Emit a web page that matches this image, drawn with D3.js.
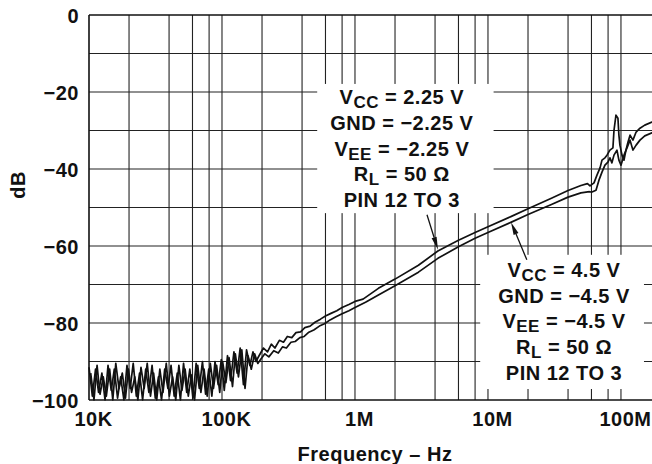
<!DOCTYPE html>
<html><head><meta charset="utf-8">
<script src="https://cdn.jsdelivr.net/npm/d3@7"></script>
<style>
body{margin:0;background:#fff}
svg{display:block}
text{font-family:"Liberation Sans",Arial,Helvetica,sans-serif;font-weight:bold;fill:#111;letter-spacing:0.5px}
</style>
</head><body>
<svg id="c" width="652" height="464"></svg>
<script>
// ---- data ----
const xTickValues = [1e4, 1e5, 1e6, 1e7, 1e8];
const xTickLabels = ["10K", "100K", "1M", "10M", "100M"];
const yTickValues = [0, -20, -40, -60, -80, -100];
const yTickLabels = ["0", "−20", "−40", "−60", "−80", "−100"];
const gridMultipliers = [2, 4, 6, 8, 10];
const gridDecades = [1e4, 1e5, 1e6, 1e7, 1e8];
const gridDb = [-10, -20, -30, -40, -50, -60, -70, -80, -90];

// Curve A (upper, VCC = 2.25 V)
const freqA = [
 10.0e3,10.6e3,11.2e3,11.8e3,12.5e3,13.2e3,13.9e3,14.7e3,15.5e3,16.4e3,17.3e3,18.3e3,19.3e3,20.4e3,21.5e3,22.7e3,24.0e3,25.3e3,26.7e3,28.2e3,
 29.8e3,31.5e3,33.3e3,35.1e3,37.1e3,39.2e3,41.4e3,43.7e3,46.1e3,48.7e3,51.4e3,54.3e3,57.3e3,60.5e3,63.9e3,67.5e3,71.3e3,75.3e3,79.5e3,83.9e3,
 88.6e3,93.6e3,98.8e3,104e3,110e3,116e3,123e3,130e3,137e3,145e3,153e3,162e3,171e3,180e3,
 190e3,205e3,220e3,235e3,250e3,270e3,290e3,310e3,335e3,360e3,390e3,420e3,460e3,500e3,550e3,600e3,660e3,730e3,800e3,900e3,
 1.0e6,1.15e6,1.5e6,2e6,3e6,4.2e6,6e6,8e6,10e6,15e6,20e6,30e6,40e6,50e6,56e6,58.5e6,62.7e6,66e6,69.6e6,72e6,75.8e6,78.5e6,82.6e6,87e6,88.6e6,
 91.7e6,94.9e6,96.5e6,98.2e6,101.8e6,105.4e6,109e6,113e6,117e6,123e6,130e6,139e6,151e6,171e6,200e6
];
const dbA = [
 -91.5,-99,-92,-98,-93,-100,-91,-97.5,-92,-99.5,-94,-100,-91,-97,-90.5,-99,-93,-100,-92,-98,
 -91,-99.5,-94,-100,-92,-97,-91,-99,-93,-100,-90.5,-98,-92,-99.5,-90.5,-97,-90,-98.5,-92,-99,
 -90,-96,-89.5,-97.5,-88.5,-95,-87.5,-93,-86.5,-96,-87,-91,-87.5,-90,
 -88.5,-86.5,-87.5,-85.5,-86.5,-84.5,-85,-83.5,-83.8,-82.5,-82.3,-81.2,-80.8,-79.8,-79,-78.2,-77.5,-76.8,-76,-75.2,
 -74.4,-73.8,-71.0,-68.6,-65.0,-61.3,-58.5,-56.5,-55.0,-52.3,-50.3,-47.6,-45.6,-44.3,-43.8,-44.4,-43.6,-41.6,-39.7,-37.7,-37.1,-36.4,-35.1,-34.5,-30.0,
 -26.0,-26.8,-31.2,-33.8,-36.4,-37.7,-35.1,-33.0,-31.2,-32.5,-30.4,-29.4,-28.6,-27.8,-27.5
];

// Curve B (lower, VCC = 4.5 V)
const freqB = [
 10.3e3,10.9e3,11.5e3,12.1e3,12.8e3,13.5e3,14.3e3,15.1e3,15.9e3,16.8e3,17.8e3,18.8e3,19.8e3,20.9e3,22.1e3,23.3e3,24.6e3,26.0e3,27.4e3,29.0e3,
 30.6e3,32.3e3,34.1e3,36.0e3,38.1e3,40.2e3,42.5e3,44.9e3,47.4e3,50.0e3,52.8e3,55.8e3,58.9e3,62.2e3,65.7e3,69.4e3,73.3e3,77.4e3,81.7e3,86.3e3,
 91.1e3,96.2e3,101e3,107e3,113e3,120e3,126e3,133e3,141e3,149e3,157e3,166e3,176e3,186e3,
 195e3,210e3,225e3,245e3,265e3,285e3,305e3,330e3,355e3,385e3,415e3,450e3,490e3,540e3,590e3,650e3,720e3,800e3,900e3,
 1.0e6,1.2e6,1.5e6,2e6,3e6,4.2e6,6e6,8e6,10e6,15e6,20e6,30e6,40e6,50e6,58e6,60.5e6,64.9e6,68.3e6,72e6,75.8e6,79.8e6,82.6e6,85.5e6,88.6e6,
 93.3e6,96.5e6,100e6,105.4e6,111e6,117e6,123e6,130e6,139e6,151e6,171e6,200e6
];
const dbB = [
 -93,-100,-91,-98.5,-94,-99,-92,-100,-90.5,-97,-93,-99.5,-92,-98,-94,-100,-91.5,-97,-90.5,-99,
 -93,-100,-92,-98,-90.5,-99,-94,-100,-91,-97.5,-92,-99,-93.5,-100,-91,-98,-92,-99,-90.5,-97,
 -91,-98,-90,-95.5,-89,-96.5,-88,-94,-87,-97,-88.5,-92,-88,-90.5,
 -89.5,-88,-88.8,-87.2,-87.8,-86.2,-86.5,-85,-84.8,-83.8,-83.5,-82.4,-81.8,-80.8,-80.2,-79.2,-78.4,-77.6,-76.8,
 -76.0,-74.6,-72.7,-70.3,-66.8,-63.2,-60.2,-58.0,-56.5,-53.8,-51.8,-49.2,-47.3,-46.2,-45.9,-46.0,-45.5,-42.9,-40.8,-39.0,-38.2,-37.1,-38.4,-36.4,
 -35.1,-37.7,-39.0,-36.4,-34.5,-32.5,-35.1,-33.8,-32.5,-31.4,-30.6,-30.0
];

const label1Lines = [["V","CC"," = 2.25 V"],["GND = −2.25 V"],["V","EE"," = −2.25 V"],["R","L"," = 50 Ω"],["PIN 12 TO 3"]];
const label2Lines = [["V","CC"," = 4.5 V"],["GND = −4.5 V"],["V","EE"," = −4.5 V"],["R","L"," = 50 Ω"],["PIN 12 TO 3"]];
const label1Anchor = [2.25e6, -23.1];
const label2Anchor = [3.73e7, -68.0];
const arrow1 = [[3.48e6, -51.9], [4.21e6, -61.0]];
const arrow2 = [[1.96e7, -63.6], [1.49e7, -53.8]];

// ---- chart ----
const svg = d3.select("#c");
const x = d3.scaleLog().domain([1e4, 2e8]).range([89, 661]);
const y = d3.scaleLinear().domain([0, -100]).range([15, 400]);

const grid = svg.append("g").attr("stroke", "#222").attr("stroke-width", 1.1).attr("fill", "none");
const gx = [];
gridDecades.forEach(d => gridMultipliers.forEach(m => gx.push(d * m)));
grid.selectAll("line.v").data(gx.filter(v => v < 2e8)).join("line")
  .attr("x1", d => x(d)).attr("x2", d => x(d)).attr("y1", y(0)).attr("y2", y(-100));
grid.selectAll("line.h").data(gridDb).join("line").attr("class","h")
  .attr("x1", x(1e4)).attr("x2", x(2e8)).attr("y1", d => y(d)).attr("y2", d => y(d));

// borders
svg.append("line").attr("x1", x(1e4)).attr("x2", x(2e8)).attr("y1", y(0)).attr("y2", y(0)).attr("stroke","#111").attr("stroke-width",1.6);
svg.append("line").attr("x1", x(1e4)).attr("x2", x(2e8)).attr("y1", y(-100)).attr("y2", y(-100)).attr("stroke","#111").attr("stroke-width",1.6);
svg.append("line").attr("x1", x(1e4)).attr("x2", x(1e4)).attr("y1", y(0)).attr("y2", y(-100)).attr("stroke","#111").attr("stroke-width",1.6);

// axes labels via d3 axes
const xAxis = d3.axisBottom(x).tickValues(xTickValues).tickFormat((d,i) => xTickLabels[i]).tickSize(0).tickPadding(0);
const gxa = svg.append("g").attr("transform", "translate(0,426)").call(xAxis);
gxa.select(".domain").remove();
gxa.selectAll("text").attr("font-size", 20).attr("dy", 0).attr("dx", 4).attr("fill", "#111")
  .style("font-family",'"Liberation Sans",Arial,sans-serif').style("font-weight","bold");

const yAxis = d3.axisLeft(y).tickValues(yTickValues).tickFormat((d,i) => yTickLabels[i]).tickSize(0).tickPadding(0);
const gya = svg.append("g").attr("transform", "translate(79,0)").call(yAxis);
gya.select(".domain").remove();
gya.selectAll("text").attr("font-size", 20).attr("dy", 7).attr("x", 0).attr("fill", "#111")
  .style("font-family",'"Liberation Sans",Arial,sans-serif').style("font-weight","bold");

svg.append("text").attr("transform", "translate(25,185) rotate(-90)").attr("text-anchor","middle")
  .attr("font-size", 20).text("dB");
svg.append("text").attr("x", 375).attr("y", 461).attr("text-anchor","middle")
  .attr("font-size", 20).text("Frequency – Hz");

// label blocks
function block(lines, anchor, padL, padR, padT, padB) {
  const g = svg.append("g");
  const bg = g.append("rect").attr("fill", "#fff");
  const t = g.append("g");
  lines.forEach((ln, i) => {
    const tx = t.append("text").attr("x", x(anchor[0])).attr("y", y(anchor[1]) + i * 25.8)
      .attr("text-anchor", "middle").attr("font-size", 20);
    if (ln.length === 1) tx.text(ln[0]);
    else {
      tx.append("tspan").text(ln[0]);
      tx.append("tspan").attr("dy", 4).attr("font-size", 17).text(ln[1]);
      tx.append("tspan").attr("dy", -4).text(ln[2]);
    }
  });
  const bb = t.node().getBBox();
  bg.attr("x", bb.x - padL).attr("width", bb.width + padL + padR)
    .attr("y", bb.y - padT).attr("height", bb.height + padT + padB);
}
block(label1Lines, label1Anchor, 13, 20, 2, 2);
block(label2Lines, label2Anchor, 18, 14, 4, 5);

// curves
const line = d3.line().x(d => x(d[0])).y(d => y(d[1]));
const ptsA = freqA.map((f, i) => [f, dbA[i]]);
const ptsB = freqB.map((f, i) => [f, dbB[i]]);
svg.append("path").datum(ptsA).attr("d", line).attr("fill","none").attr("stroke","#111").attr("stroke-width",1.7).attr("stroke-linejoin","round");
svg.append("path").datum(ptsB).attr("d", line).attr("fill","none").attr("stroke","#111").attr("stroke-width",1.7).attr("stroke-linejoin","round");

// arrows
function arrow(a) {
  const x0 = x(a[0][0]), y0 = y(a[0][1]), x1 = x(a[1][0]), y1 = y(a[1][1]);
  const ang = Math.atan2(y1 - y0, x1 - x0);
  const L = 13, W = 2.6;
  const bx = x1 - L * Math.cos(ang), by = y1 - L * Math.sin(ang);
  svg.append("line").attr("x1", x0).attr("y1", y0).attr("x2", bx).attr("y2", by).attr("stroke","#111").attr("stroke-width",1.3);
  const px = -Math.sin(ang) * W, py = Math.cos(ang) * W;
  svg.append("path").attr("d", `M${x1},${y1}L${bx+px},${by+py}L${bx-px},${by-py}Z`).attr("fill","#111");
}
arrow(arrow1);
arrow(arrow2);
</script>
</body></html>
